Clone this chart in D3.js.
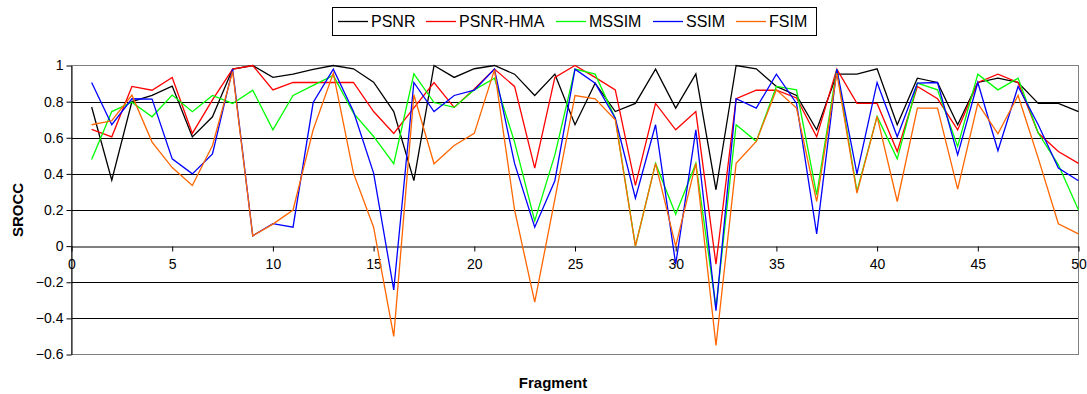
<!DOCTYPE html>
<html>
<head>
<meta charset="utf-8">
<script src="https://cdn.jsdelivr.net/npm/d3@7"></script>
<style>
  body { margin: 0; background: #fff; }
  svg { font-family: "Liberation Sans", Arial, sans-serif; }
</style>
</head>
<body>
<div id="chart"></div>
<script>
// fragment numbers 1..50
const fragments = d3.range(1, 51);

const psnr = [0.77, 0.365, 0.80, 0.835, 0.886, 0.605, 0.716, 0.98, 1.0, 0.934,
  0.952, 0.978, 1.0, 0.982, 0.908, 0.745, 0.363, 1.0, 0.934, 0.982,
  1.0, 0.952, 0.834, 0.952, 0.672, 0.902, 0.745, 0.79, 0.98, 0.764,
  0.954, 0.312, 1.0, 0.982, 0.884, 0.834, 0.644, 0.952, 0.952, 0.982,
  0.672, 0.93, 0.906, 0.672, 0.906, 0.93, 0.906, 0.79, 0.79, 0.745];

const psnrHma = [0.646, 0.605, 0.884, 0.863, 0.934, 0.624, 0.81, 0.98, 1.0, 0.865,
  0.906, 0.906, 0.906, 0.906, 0.745, 0.624, 0.765, 0.906, 0.768, 0.87,
  0.98, 0.884, 0.432, 0.934, 1.0, 0.934, 0.865, 0.336, 0.79, 0.644,
  0.745, -0.1, 0.816, 0.863, 0.863, 0.82, 0.605, 0.98, 0.79, 0.79,
  0.524, 0.884, 0.816, 0.644, 0.906, 0.952, 0.906, 0.626, 0.524, 0.458];

const mssim = [0.48, 0.745, 0.797, 0.716, 0.836, 0.744, 0.834, 0.79, 0.863, 0.644,
  0.834, 0.89, 0.945, 0.736, 0.607, 0.456, 0.954, 0.795, 0.768, 0.865,
  0.93, 0.576, 0.14, 0.505, 0.98, 0.952, 0.708, 0.0, 0.458, 0.177,
  0.458, -0.34, 0.672, 0.58, 0.884, 0.865, 0.284, 0.98, 0.303, 0.718,
  0.483, 0.902, 0.865, 0.552, 0.952, 0.865, 0.93, 0.626, 0.45, 0.2];

const ssim = [0.906, 0.672, 0.816, 0.814, 0.483, 0.40, 0.51, 0.98, 0.057, 0.124,
  0.105, 0.795, 0.98, 0.745, 0.404, -0.242, 0.906, 0.745, 0.834, 0.863,
  0.98, 0.458, 0.105, 0.362, 0.98, 0.902, 0.708, 0.266, 0.672, -0.1,
  0.644, -0.357, 0.816, 0.764, 0.952, 0.79, 0.068, 0.98, 0.4, 0.906,
  0.605, 0.902, 0.906, 0.505, 0.906, 0.528, 0.884, 0.672, 0.432, 0.362];

const fsim = [0.672, 0.694, 0.836, 0.576, 0.435, 0.336, 0.557, 0.967, 0.057, 0.122,
  0.2, 0.644, 0.958, 0.404, 0.105, -0.5, 0.838, 0.456, 0.557, 0.624,
  0.976, 0.2, -0.31, 0.26, 0.834, 0.816, 0.7, 0.0, 0.458, 0.0,
  0.458, -0.55, 0.458, 0.58, 0.865, 0.764, 0.247, 0.958, 0.293, 0.718,
  0.247, 0.764, 0.764, 0.316, 0.79, 0.622, 0.834, 0.487, 0.124, 0.068];

const seriesNames = ["PSNR", "PSNR-HMA", "MSSIM", "SSIM", "FSIM"];
const seriesColors = ["#000000", "#ff0000", "#00ff00", "#0000ff", "#ff6600"];
const seriesValues = [psnr, psnrHma, mssim, ssim, fsim];

const xTicks = [0, 5, 10, 15, 20, 25, 30, 35, 40, 45, 50];
const yTicks = [1, 0.8, 0.6, 0.4, 0.2, 0, -0.2, -0.4, -0.6];

const width = 1087, height = 394;
const plot = { left: 71.5, right: 1078.5, top: 65.5, bottom: 354.5 };

const svg = d3.select("#chart").append("svg")
  .attr("width", width)
  .attr("height", height);

const x = d3.scaleLinear().domain([0, 50]).range([plot.left, plot.right]);
const y = d3.scaleLinear().domain([-0.6, 1]).range([plot.bottom, plot.top]);

// gridlines
svg.append("g")
  .selectAll("line")
  .data(yTicks.filter(d => d !== 1 && d !== -0.6 && d !== 0))
  .enter().append("line")
    .attr("x1", plot.left).attr("x2", plot.right)
    .attr("y1", d => Math.round(y(d)) + 0.5).attr("y2", d => Math.round(y(d)) + 0.5)
    .attr("stroke", "#000").attr("stroke-width", 1);

// plot area border
svg.append("rect")
  .attr("x", plot.left).attr("y", plot.top)
  .attr("width", plot.right - plot.left).attr("height", plot.bottom - plot.top)
  .attr("fill", "none").attr("stroke", "#808080").attr("stroke-width", 1);

// y axis
const yAxis = svg.append("g")
  .attr("transform", `translate(${plot.left},0)`)
  .call(d3.axisLeft(y).tickValues(yTicks).tickSize(5).tickSizeOuter(0)
    .tickFormat(d => d3.format("")(Math.round(d * 10) / 10)));
yAxis.selectAll("text").attr("font-size", 14).attr("fill", "#000").attr("x", -8);
yAxis.select(".domain").attr("stroke", "#000");
yAxis.attr("font-family", null);

// x axis at y = 0
const xAxis = svg.append("g")
  .attr("transform", `translate(0,${Math.round(y(0)) + 0.5})`)
  .call(d3.axisBottom(x).tickValues(xTicks).tickSize(5).tickSizeOuter(0));
xAxis.selectAll("text").attr("font-size", 14).attr("fill", "#000").attr("dy", "1.05em");
xAxis.select(".domain").attr("stroke", "#000");
xAxis.attr("font-family", null);

// series lines
const line = d3.line()
  .x((d, i) => x(fragments[i]))
  .y(d => y(d));

seriesValues.forEach((vals, k) => {
  svg.append("path")
    .datum(vals)
    .attr("fill", "none")
    .attr("stroke", seriesColors[k])
    .attr("stroke-width", 1.3)
    .attr("stroke-linejoin", "miter")
    .attr("d", line);
});

// axis titles
svg.append("text")
  .attr("transform", `translate(23,${(plot.top + plot.bottom) / 2}) rotate(-90)`)
  .attr("text-anchor", "middle")
  .attr("font-size", 15).attr("font-weight", "bold")
  .text("SROCC");

svg.append("text")
  .attr("x", 553).attr("y", 388)
  .attr("text-anchor", "middle")
  .attr("font-size", 15).attr("font-weight", "bold")
  .text("Fragment");

// legend
const legendX = [338, 426, 556, 653, 736];
const legend = svg.append("g");
legend.append("rect")
  .attr("x", 332.5).attr("y", 7.5).attr("width", 484).attr("height", 28)
  .attr("fill", "#fff").attr("stroke", "#000");

seriesNames.forEach((name, k) => {
  legend.append("line")
    .attr("x1", legendX[k]).attr("x2", legendX[k] + 30)
    .attr("y1", 21.5).attr("y2", 21.5)
    .attr("stroke", seriesColors[k]).attr("stroke-width", 1.3);
  legend.append("text")
    .attr("x", legendX[k] + 33).attr("y", 27)
    .attr("font-size", 16)
    .text(name);
});
</script>
</body>
</html>
